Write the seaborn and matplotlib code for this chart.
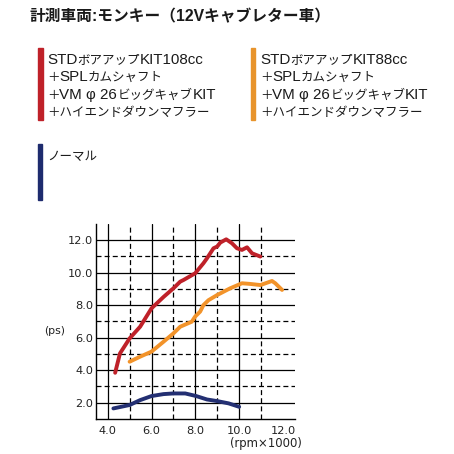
import matplotlib
matplotlib.use("Agg")
import matplotlib.pyplot as plt
import seaborn as sns
import pandas as pd
from matplotlib.patches import Rectangle

sns.set_style("white")
plt.rcParams['font.family'] = ['Noto Sans CJK JP', 'DejaVu Sans']

# ---- data (rpm x1000, ps) ----
red_rpm = [4.34, 4.56, 5.0, 5.48, 6.0, 6.55, 7.0, 7.31, 7.46, 7.99, 8.37, 8.53, 8.83, 9.0, 9.14,
           9.41, 9.67, 9.9, 10.13, 10.36, 10.59, 10.97]
red_ps = [3.84, 5.03, 5.95, 6.67, 7.8, 8.5, 9.03, 9.44, 9.54, 9.95, 10.57, 10.87, 11.49, 11.6, 11.84,
          12.04, 11.8, 11.49, 11.39, 11.55, 11.18, 10.98]
orange_rpm = [5.0, 5.48, 6.0, 6.55, 7.0, 7.31, 7.84, 7.99, 8.22, 8.37, 8.6, 9.0, 9.59, 10.13,
              10.5, 10.97, 11.5, 11.65, 11.96]
orange_ps = [4.52, 4.83, 5.14, 5.75, 6.26, 6.67, 6.98, 7.29, 7.6, 8.0, 8.3, 8.62, 9.03, 9.34,
             9.3, 9.23, 9.48, 9.34, 8.93]
navy_rpm = [4.26, 5.0, 5.48, 6.0, 6.55, 7.0, 7.54, 8.04, 8.53, 9.0, 9.52, 10.0]
navy_ps = [1.65, 1.86, 2.16, 2.41, 2.53, 2.57, 2.57, 2.41, 2.2, 2.1, 1.96, 1.75]

series_names = ["108cc", "88cc", "normal"]
series_colors = ["#bf2129", "#f2932a", "#232f72"]

title = "計測車両:モンキー（12Vキャブレター車）"
legend_red = ["STDボアアップKIT108cc", "＋SPLカムシャフト", "＋VM φ 26ビッグキャブKIT", "＋ハイエンドダウンマフラー"]
legend_orange = ["STDボアアップKIT88cc", "＋SPLカムシャフト", "＋VM φ 26ビッグキャブKIT", "＋ハイエンドダウンマフラー"]
legend_navy = ["ノーマル"]
xticks = [4.0, 6.0, 8.0, 10.0, 12.0]
yticks = [2.0, 4.0, 6.0, 8.0, 10.0, 12.0]
xlabel = "(rpm×1000)"
ylabel = "(ps)"

df = pd.concat([
    pd.DataFrame({"rpm": red_rpm, "ps": red_ps, "s": series_names[0]}),
    pd.DataFrame({"rpm": orange_rpm, "ps": orange_ps, "s": series_names[1]}),
    pd.DataFrame({"rpm": navy_rpm, "ps": navy_ps, "s": series_names[2]}),
])

W = H = 454
fig = plt.figure(figsize=(4.54, 4.54), dpi=100)
fig.patch.set_facecolor("white")
renderer = fig.canvas.get_renderer()

def fx(px):
    return px / W

def fy(py):
    return 1 - py / H

ax = fig.add_axes([fx(96), fy(419), (295 - 96) / W, (419 - 223.7) / H])

# grid
for v in [4, 6, 8, 10]:
    ax.axvline(v, color="black", lw=0.9, zorder=1)
for v in [5, 7, 9, 11]:
    ax.axvline(v, color="black", lw=0.9, ls=(0, (4, 2.5)), zorder=1)
for v in [2, 4, 6, 8, 10, 12]:
    ax.axhline(v, color="black", lw=0.9, zorder=1)
for v in [3, 5, 7, 9, 11]:
    ax.axhline(v, color="black", lw=0.9, ls=(0, (4, 2.5)), zorder=1)

sns.lineplot(data=df, x="rpm", y="ps", hue="s", palette=dict(zip(series_names, series_colors)),
             sort=False, estimator=None, lw=2.8, legend=False, ax=ax, zorder=3)

ax.set_xlim(3.466, 12.55)
ax.set_ylim(1.0, 13.0)
ax.set_xticks(xticks)
ax.set_yticks(yticks)
ax.set_xticklabels([f"{t:.1f}" for t in xticks], family="DejaVu Sans", fontsize=8.2, color="#222222")
ax.set_yticklabels([f"{t:.1f}" for t in yticks], family="DejaVu Sans", fontsize=8.2, color="#222222")
ax.tick_params(axis="both", length=0, pad=2)
ax.tick_params(axis="x", pad=5)
ax.set_xlabel("")
ax.set_ylabel("")
for s in ["top", "right"]:
    ax.spines[s].set_visible(False)
for s in ["left", "bottom"]:
    ax.spines[s].set_color("black")
    ax.spines[s].set_linewidth(1.0)

fig.text(fx(302), fy(443), xlabel, ha="right", va="center", family="DejaVu Sans", fontsize=8.4, color="#222222")
fig.text(fx(55), fy(330.5), ylabel, ha="center", va="center", family="DejaVu Sans", fontsize=7.8, color="#222222")

# title
fig.text(fx(30), fy(16.5), title, ha="left", va="center", fontsize=11.3, fontweight="bold", color="#1a1a1a",
         family=["Liberation Sans", "Noto Sans CJK JP"])

# legend blocks
fig.patches.append(Rectangle((fx(38), fy(120)), 4.5 / W, 72 / H, transform=fig.transFigure,
                             color=series_colors[0], zorder=0))
fig.patches.append(Rectangle((fx(251), fy(120)), 4.5 / W, 72 / H, transform=fig.transFigure,
                             color="#e8942c", zorder=0))
fig.patches.append(Rectangle((fx(37.5), fy(200)), 4.5 / W, 56 / H, transform=fig.transFigure,
                             color="#1e2b6e", zorder=0))


def is_latin(ch):
    return ord(ch) < 0x2000


def mixed_text(x_px, base_px, s):
    """Draw a line mixing a Latin face and a narrower Japanese face."""
    segs = []
    for ch in s:
        lat = is_latin(ch)
        if segs and segs[-1][0] == lat:
            segs[-1][1] += ch
        else:
            segs.append([lat, ch])
    x = x_px
    for lat, txt in segs:
        if lat:
            t = fig.text(fx(x), fy(base_px), txt, ha="left", va="baseline", fontsize=10.9,
                         color="#1a1a1a", family="Liberation Sans")
        else:
            t = fig.text(fx(x), fy(base_px), txt, ha="left", va="baseline", fontsize=9.0,
                         color="#1a1a1a", family="Noto Sans CJK JP")
        bb = t.get_window_extent(renderer=renderer)
        x += bb.width


base_y = [63.5, 81.2, 98.7, 116.2]
for t, yy in zip(legend_red, base_y):
    mixed_text(47, yy, t)
for t, yy in zip(legend_orange, base_y):
    mixed_text(260, yy, t)
mixed_text(47, 160.3, legend_navy[0])

fig.savefig("out.png", dpi=100, facecolor="white")
